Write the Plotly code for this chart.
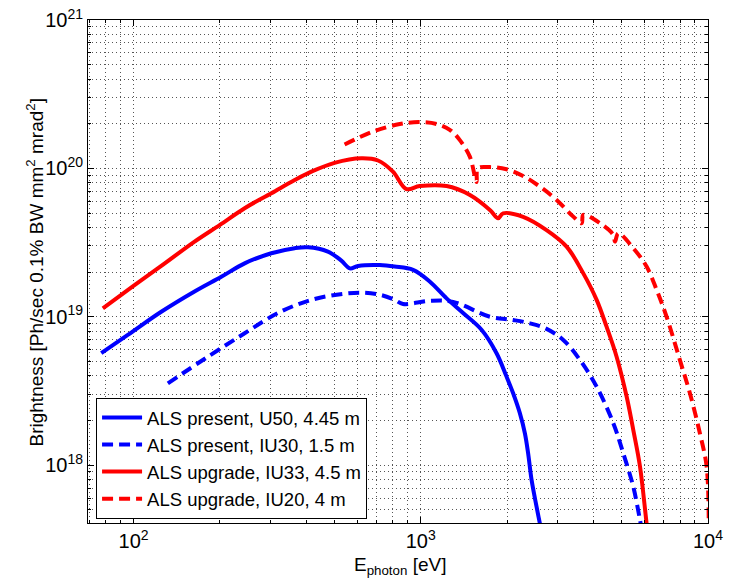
import plotly.graph_objects as go

# ---- data (photon energy in eV, brightness) ----
u50_e = [77.2, 95.5, 124.9, 163.1, 202.1, 243.7, 301.9, 364, 405, 475, 529, 566, 605, 720, 811, 940, 1074, 1230, 1404, 1630, 1836, 1989, 2097, 2213, 2304, 2365, 2431, 2530, 2598, 2680]
u50_b = [5.68e18, 7.54e18, 1.08e19, 1.48e19, 1.86e19, 2.29e19, 2.68e19, 2.90e19, 2.94e19, 2.75e19, 2.39e19, 2.12e19, 2.20e19, 2.23e19, 2.18e19, 2.07e19, 1.73e19, 1.33e19, 1.06e19, 8.15e18, 5.68e18, 3.95e18, 3.05e18, 2.24e18, 1.64e18, 1.20e18, 7.95e17, 5.25e17, 4.05e17, 3.0e17]

iu30_e = [131.7, 181.5, 243.7, 318.4, 416, 543, 638, 730, 811, 867.6, 1074, 1296, 1740, 2098, 2398, 2741, 3134, 3582, 4095, 4680, 5070, 5493, 5797, 6000]
iu30_b = [3.56e18, 5.38e18, 7.74e18, 1.06e19, 1.30e19, 1.43e19, 1.45e19, 1.40e19, 1.30e19, 1.22e19, 1.28e19, 1.26e19, 1.0e19, 9.5e18, 9.03e18, 8.28e18, 6.98e18, 5.12e18, 3.38e18, 1.92e18, 1.20e18, 7.16e17, 4.27e17, 3.0e17]

iu33_e = [78.2, 99.4, 124.9, 163.1, 199.4, 243.7, 301.9, 364, 416, 501, 621, 710, 800, 891, 992, 1230, 1483, 1740, 1859, 1935, 2271, 2741, 3219, 3680, 4095, 4435, 4806, 5208, 5493, 5797, 6113, 6300]
iu33_b = [1.14e19, 1.60e19, 2.20e19, 3.21e19, 4.15e19, 5.39e19, 6.80e19, 8.35e19, 9.51e19, 1.09e20, 1.17e20, 1.13e20, 9.51e19, 7.26e19, 7.6e19, 7.6e19, 6.62e19, 5.25e19, 4.61e19, 4.98e19, 4.72e19, 3.84e19, 2.97e19, 1.96e19, 1.30e19, 8.57e18, 5.38e18, 2.90e18, 1.73e18, 9.8e17, 4.05e17, 2.5e17]

iu20_e = [543, 682, 845, 992, 1135, 1262, 1368, 1482, 1564, 1581, 1740, 1989, 2271, 2600, 2971, 3396, 3631, 3680, 4206, 4680, 4745, 4874, 5494, 6113, 6623, 7175, 7980, 8650, 9370, 9890, 10060]
iu20_b = [1.45e20, 1.77e20, 1.99e20, 2.05e20, 1.99e20, 1.82e20, 1.55e20, 1.20e20, 8.1e19, 1.0e20, 1.02e20, 9.86e19, 8.89e19, 7.53e19, 6.13e19, 4.73e19, 4.27e19, 4.86e19, 4.27e19, 3.56e19, 3.21e19, 3.65e19, 2.90e19, 2.18e19, 1.52e19, 1.0e19, 5.12e18, 3.05e18, 1.64e18, 9.8e17, 3.95e17]

series_names = ["ALS present, U50, 4.45 m", "ALS present, IU30, 1.5 m",
                "ALS upgrade, IU33, 4.5 m", "ALS upgrade, IU20, 4 m"]

x_tickvals = [1e2, 1e3, 1e4]
x_ticktext = ["10<sup>2</sup>", "10<sup>3</sup>", "10<sup>4</sup>"]
y_tickvals = [1e18, 1e19, 1e20, 1e21]
y_ticktext = ["10<sup>18</sup>", "10<sup>19</sup>", "10<sup>20</sup>", "10<sup>21</sup>"]

x_title = "E<sub>photon</sub> [eV]"
y_title = "Brightness [Ph/sec 0.1% BW mm<sup>2</sup> mrad<sup>2</sup>]"

BLUE = "#0000ff"
RED = "#ff0000"
DASH = "11px,6px"

fig = go.Figure()
styles = [(BLUE, "solid"), (BLUE, DASH), (RED, "solid"), (RED, DASH)]
for (e, b), name, (col, dash) in zip([(u50_e, u50_b), (iu30_e, iu30_b), (iu33_e, iu33_b), (iu20_e, iu20_b)], series_names, styles):
    fig.add_trace(go.Scatter(x=e, y=b, mode="lines", name=name,
                             line=dict(color=col, width=4, dash=dash, shape="spline", smoothing=1.0)))

minor_x = [m * 10.0 ** k for k in range(1, 4) for m in range(2, 10)]
minor_y = [m * 10.0 ** k for k in range(17, 21) for m in range(2, 10)]

grid_col = "#555555"
GDASH = "1px,3px"
font = "Liberation Sans, Arial, sans-serif"

fig.update_layout(
    width=731, height=579,
    margin=dict(l=88, r=23, t=20, b=56, autoexpand=False),
    paper_bgcolor="white", plot_bgcolor="white",
    font=dict(family=font, color="black", size=18),
    showlegend=True,
    legend=dict(x=0.013, y=0.008, xanchor="left", yanchor="bottom",
                bgcolor="white", bordercolor="black", borderwidth=1,
                font=dict(size=18.5, family=font), tracegroupgap=0,
                itemwidth=40),
    xaxis=dict(type="log", range=[1.8415, 4.0], automargin=False,
               tickvals=x_tickvals, ticktext=x_ticktext, ticklabeloverflow="allow",
               ticks="inside", ticklen=6, tickcolor="black",
               showline=True, linecolor="black", linewidth=1, mirror="ticks",
               showgrid=True, gridcolor=grid_col, griddash=GDASH, gridwidth=1,
               tickfont=dict(size=20),
               minor=dict(tickvals=minor_x, ticks="inside", ticklen=3, tickcolor="black",
                          showgrid=True, gridcolor=grid_col, griddash=GDASH, gridwidth=1),
               zeroline=False),
    yaxis=dict(type="log", range=[17.61, 21.0], automargin=False,
               tickvals=y_tickvals, ticktext=y_ticktext, ticklabeloverflow="allow",
               ticks="inside", ticklen=6, tickcolor="black",
               showline=True, linecolor="black", linewidth=1, mirror="ticks",
               showgrid=True, gridcolor=grid_col, griddash=GDASH, gridwidth=1,
               tickfont=dict(size=20),
               minor=dict(tickvals=minor_y, ticks="inside", ticklen=3, tickcolor="black",
                          showgrid=True, gridcolor=grid_col, griddash=GDASH, gridwidth=1),
               zeroline=False),
    annotations=[
        dict(text=x_title, xref="paper", yref="paper", x=0.503, y=-0.0577,
             xanchor="center", yanchor="top", showarrow=False, font=dict(size=19)),
        dict(text=y_title, xref="paper", yref="paper", x=-0.0855, y=0.5,
             xanchor="center", yanchor="middle", textangle=-90, showarrow=False,
             font=dict(size=19)),
    ],
)

fig.write_html("out.html", config={"displayModeBar": False},
               post_script="document.body.style.margin='0px';")
